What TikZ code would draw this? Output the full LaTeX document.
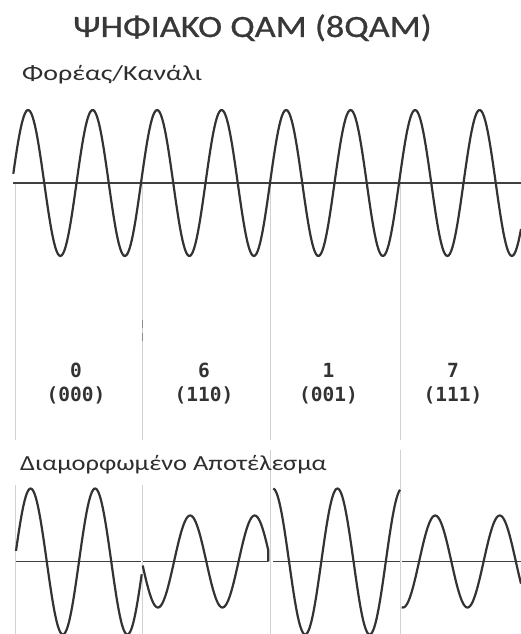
\documentclass[tikz,border=0pt]{standalone}
\usepackage{fontspec}
\setmainfont{Carlito}
\newfontfamily\titlefont[FakeBold=0.7]{Carlito}
\newfontfamily\labelfont{DejaVu Sans Mono}
\begin{document}
\begin{tikzpicture}[x=1pt,y=-1pt,
  wave/.style={line width=2.2pt, draw=black!80, line join=round},
  axisline/.style={line width=1.6pt, draw=black!75},
  guide/.style={line width=0.9pt, draw=black!18},
  titletext/.style={font=\titlefont\fontsize{31}{36}\selectfont, text=black!78, inner sep=0pt, anchor=base},
  headtext/.style={font=\fontsize{21.5}{26}\selectfont, text=black!82, inner sep=0pt, anchor=base west},
  symtext/.style={font=\labelfont\bfseries\fontsize{19.5}{24}\selectfont, text=black!80, inner sep=0pt, anchor=base}]
\useasboundingbox (0,0) rectangle (521,634);
\fill[white] (0,0) rectangle (521,634);
\clip (0,0) rectangle (521,634);

% faint segment guides
\foreach \gx in {15.5,142} {
  \draw[guide] (\gx,183) -- (\gx,440);
  \draw[guide] (\gx,485) -- (\gx,634);
}
\foreach \gx in {270,400.5} {
  \draw[guide] (\gx,183) -- (\gx,440);
  \draw[guide] (\gx,450) -- (\gx,634);
}
\draw[line width=1pt, draw=black!45, dash pattern=on 8pt off 5pt] (142,320) -- (142,346);

% title and headings
\node[titletext] (title) at (252.5,37) {\scalebox{1.17}[1]{ΨΗΦΙΑΚΟ QAM (8QAM)}};
\node[headtext] (carrierlabel) at (22,80) {\scalebox{1.3}[1]{Φορέας/Κανάλι}};
\node[headtext] (resultlabel) at (20,470) {\scalebox{1.23}[1]{Διαμορφωμένο Αποτέλεσμα}};

% carrier
\draw[axisline] (13,183) -- (521,183);
\draw[wave] plot[domain=13.3:521, samples=400] (\x, {183 - 73*sin(5.5814*(\x-12))});

% symbol labels
\node[symtext] (d0) at (76,377) {0};
\node[symtext] (b0) at (76,401.5) {(000)};
\node[symtext] (d6) at (204,377) {6};
\node[symtext] (b6) at (204,401.5) {(110)};
\node[symtext] (d1) at (328.5,377) {1};
\node[symtext] (b1) at (328.5,401.5) {(001)};
\node[symtext] (d7) at (453,377) {7};
\node[symtext] (b7) at (453,401.5) {(111)};

% modulated result axis
\draw[axisline] (16,561.5) -- (141,561.5);
\draw[axisline] (143,561.5) -- (268.3,561.5);
\draw[axisline] (273,561.5) -- (399.5,561.5);
\draw[axisline] (402,561.5) -- (521,561.5);

% modulated segments
\draw[wave] plot[domain=16:141.7, samples=120] (\x, {561.5 - 73*sin(5.5814*(\x-14.5))});
\draw[wave] plot[domain=142.7:268.3, samples=120] (\x, {561.5 + 46*sin(5.5814*(\x-12.8))}) -- (268.3,561.5);
\draw[wave] plot[domain=273.3:400, samples=120] (\x, {561.5 - 73*sin(5.5814*(\x+1.2))});
\draw[wave] plot[domain=401.7:521, samples=120] (\x, {561.5 - 46*sin(5.5814*(\x-32.1))});
\end{tikzpicture}
\end{document}
